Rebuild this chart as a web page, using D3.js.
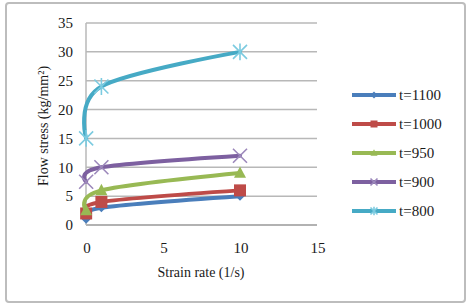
<!DOCTYPE html>
<html>
<head>
<meta charset="utf-8">
<script src="https://cdn.jsdelivr.net/npm/d3@7"></script>
<style>body{margin:0;background:#fff}</style>
</head>
<body>
<div id="chart"></div>
<script>
// values
const strainRates = [0.01, 1, 10];
const seriesNames = ["t=1100", "t=1000", "t=950", "t=900", "t=800"];
const t1100 = [1, 3, 5];
const t1000 = [2, 4, 6];
const t950 = [2.5, 6, 9];
const t900 = [7.5, 10, 12];
const t800 = [15, 24, 30];
const xTicks = [0, 5, 10, 15];
const yTicks = [0, 5, 10, 15, 20, 25, 30, 35];

const seriesValues = [t1100, t1000, t950, t900, t800];
const colors = ["#4a7ebb", "#be4b48", "#98b954", "#7d60a0", "#46aac5"];
const markerColors = ["#4a7ebb", "#be4b48", "#98b954", "#9c88bb", "#7ccbe0"];
const markerKinds = ["diamond", "square", "triangle", "x", "star"];

const width = 470, height = 306;
const fontFam = "'Liberation Serif', 'Times New Roman', serif";

const x = d3.scaleLinear().domain([0, 15]).range([86, 317]);
const y = d3.scaleLinear().domain([0, 35]).range([225, 23]);

const svg = d3.select("#chart").append("svg")
    .attr("width", width)
    .attr("height", height);

// outer frame
svg.append("rect")
    .attr("x", 6).attr("y", 3)
    .attr("width", 459).attr("height", 299)
    .attr("rx", 3)
    .attr("fill", "#fff")
    .attr("stroke", "#bdbdbd")
    .attr("stroke-width", 2);

// grid
svg.append("g")
  .selectAll("line")
  .data(yTicks)
  .join("line")
    .attr("x1", x(0)).attr("x2", x(15))
    .attr("y1", d => y(d)).attr("y2", d => y(d))
    .attr("stroke", d => d === 0 ? "#999" : "#b8b8b8")
    .attr("stroke-width", 1.5);

svg.append("line")
    .attr("x1", x(0)).attr("x2", x(0))
    .attr("y1", y(0)).attr("y2", y(35))
    .attr("stroke", "#b8b8b8")
    .attr("stroke-width", 1.5);

// tick labels
svg.append("g")
    .attr("font-family", fontFam)
    .attr("font-size", 15)
    .attr("fill", "#1a1a1a")
    .attr("text-anchor", "end")
  .selectAll("text")
  .data(yTicks)
  .join("text")
    .attr("x", 73)
    .attr("y", d => y(d))
    .attr("dy", "0.35em")
    .text(d => d);

svg.append("g")
    .attr("font-family", fontFam)
    .attr("font-size", 15)
    .attr("fill", "#1a1a1a")
    .attr("text-anchor", "middle")
  .selectAll("text")
  .data(xTicks)
  .join("text")
    .attr("x", d => x(d) + 1)
    .attr("y", 253)
    .text(d => d);

// axis titles
svg.append("text")
    .attr("font-family", fontFam)
    .attr("font-size", 14)
    .attr("fill", "#1a1a1a")
    .attr("text-anchor", "middle")
    .attr("x", 201).attr("y", 277)
    .text("Strain rate (1/s)");

svg.append("text")
    .attr("font-family", fontFam)
    .attr("font-size", 14)
    .attr("fill", "#1a1a1a")
    .attr("text-anchor", "middle")
    .attr("transform", "translate(48,126) rotate(-90)")
    .text("Flow stress (kg/mm²)");

function marker(g, kind, r, color) {
  if (kind === "diamond") {
    g.append("path").attr("d", `M0,${-r}L${r},0L0,${r}L${-r},0Z`).attr("fill", color);
  } else if (kind === "square") {
    g.append("rect").attr("x", -r).attr("y", -r).attr("width", 2 * r).attr("height", 2 * r).attr("fill", color);
  } else if (kind === "triangle") {
    g.append("path").attr("d", `M0,${-r * 1.1}L${r},${r * 0.8}L${-r},${r * 0.8}Z`).attr("fill", color);
  } else {
    let d = `M${-r},${-r}L${r},${r}M${-r},${r}L${r},${-r}`;
    if (kind === "star") d += `M0,${-r * 1.2}L0,${r * 1.2}`;
    g.append("path").attr("d", d).attr("fill", "none").attr("stroke", color).attr("stroke-width", 1.6);
  }
}

const line = d3.line()
    .curve(d3.curveCardinal.tension(0))
    .x((d, i) => x(strainRates[i]))
    .y(d => y(d));

const markerSize = [4.5, 6, 6, 7, 7];

seriesValues.forEach((vals, s) => {
  svg.append("path")
      .attr("d", line(vals))
      .attr("fill", "none")
      .attr("stroke", colors[s])
      .attr("stroke-width", 4)
      .attr("stroke-linejoin", "round")
      .attr("stroke-linecap", "round");
  svg.append("g")
    .selectAll("g")
    .data(vals)
    .join("g")
      .attr("transform", (d, i) => `translate(${x(strainRates[i])},${y(d)})`)
      .each(function() { marker(d3.select(this), markerKinds[s], markerSize[s], markerColors[s]); });
});

// legend
const legend = svg.append("g");
seriesNames.forEach((name, s) => {
  const ly = 95 + s * 29;
  const item = legend.append("g").attr("transform", `translate(0,${ly})`);
  item.append("line")
      .attr("x1", 352).attr("x2", 396)
      .attr("stroke", colors[s])
      .attr("stroke-width", 4);
  const m = item.append("g").attr("transform", "translate(374,0)");
  marker(m, markerKinds[s], 3.5, markerColors[s]);
  item.append("text")
      .attr("x", 399).attr("y", 0)
      .attr("dy", "0.35em")
      .attr("font-family", fontFam)
      .attr("font-size", 15)
      .attr("fill", "#1a1a1a")
      .text(name);
});
</script>
</body>
</html>
